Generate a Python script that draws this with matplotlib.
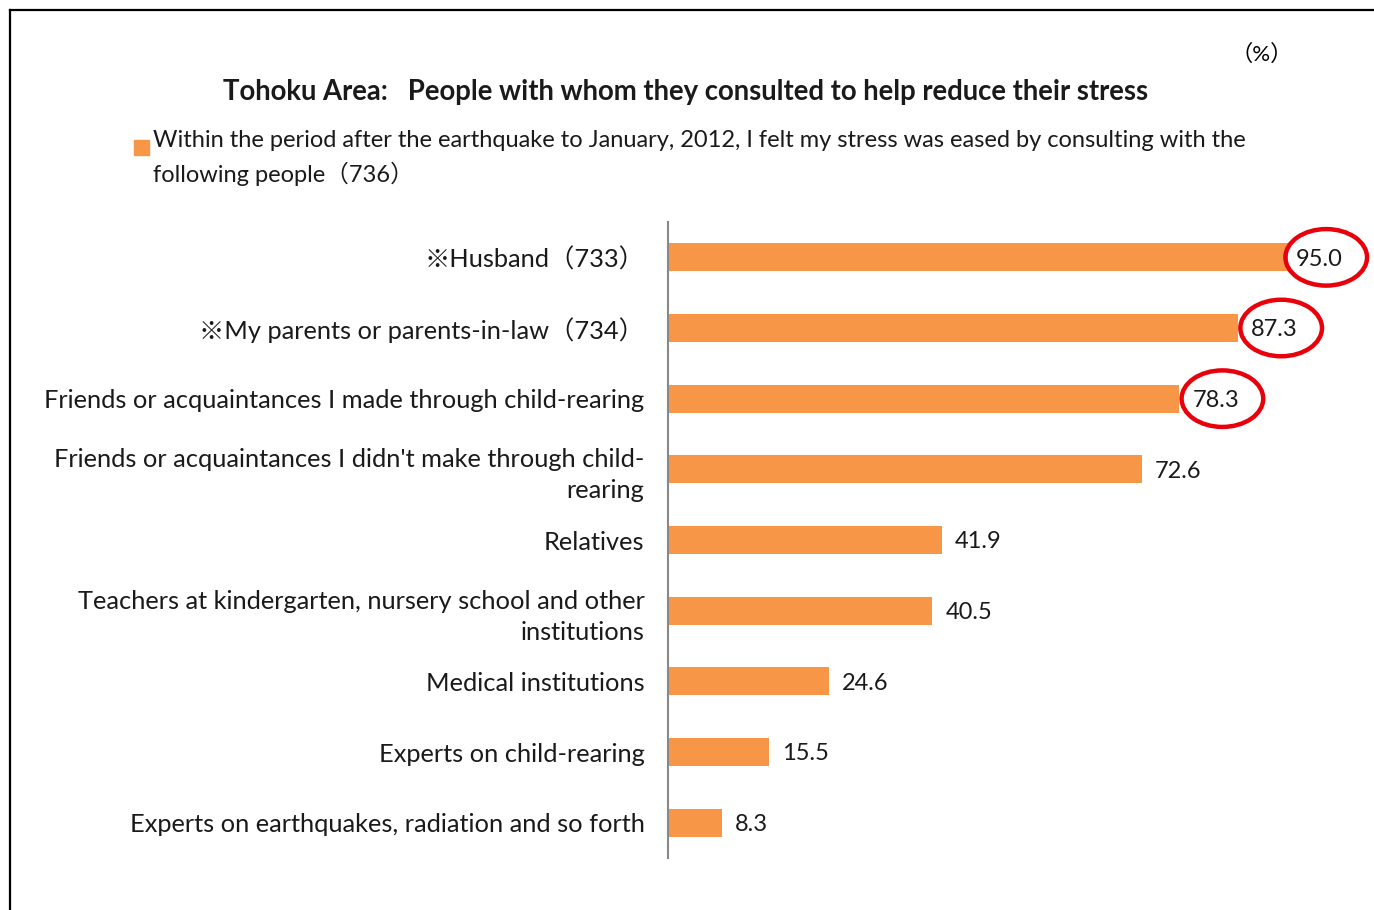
import matplotlib
matplotlib.use("Agg")
import matplotlib.pyplot as plt
from matplotlib.patches import Ellipse, Rectangle
from matplotlib.lines import Line2D

plt.rcParams['font.family'] = ['Lato', 'Noto Sans CJK JP', 'DejaVu Sans']

categories = [
    "※Husband（733）",
    "※My parents or parents-in-law（734）",
    "Friends or acquaintances I made through child-rearing",
    "Friends or acquaintances I didn't make through child-\nrearing",
    "Relatives",
    "Teachers at kindergarten, nursery school and other\ninstitutions",
    "Medical institutions",
    "Experts on child-rearing",
    "Experts on earthquakes, radiation and so forth",
]
values = [95.0, 87.3, 78.3, 72.6, 41.9, 40.5, 24.6, 15.5, 8.3]
circled = [0, 1, 2]

title = "Tohoku Area:   People with whom they consulted to help reduce their stress"
legend_text = ("Within the period after the earthquake to January, 2012, I felt my stress was eased by consulting with the\n"
               "following people（736）")

bar_color = "#F79646"
text_color = "#1a1a1a"

W, H = 1374, 910
fig = plt.figure(figsize=(W / 100, H / 100), dpi=100)

def fx(px):
    return px / W

def fy(py):
    return 1 - py / H

# frame lines along top and left
fig.add_artist(Line2D([fx(10), fx(10)], [fy(10), 0], color="black", lw=1.6))
fig.add_artist(Line2D([fx(10), 1], [fy(10), fy(10)], color="black", lw=1.6))

fig.text(fx(1262), fy(54), "（%）", ha="center", va="center", fontsize=16, color="black")
fig.text(fx(686), fy(92), title, ha="center", va="center", fontsize=19.8,
         fontweight="bold", color=text_color)

# legend marker + text
fig.add_artist(Rectangle((fx(134), fy(155)), fx(15), 15 / H, color=bar_color,
                         transform=fig.transFigure))
fig.text(fx(153), fy(158), legend_text, ha="left", va="center", fontsize=17,
         color=text_color, linespacing=1.5)

ax = fig.add_axes([fx(668), fy(858), fx(1321) - fx(668), fy(222) - fy(858)])
ypos = list(range(len(values)))
ax.barh(ypos, values, height=0.4, color=bar_color)
ax.set_xlim(0, 100)
ax.set_ylim(len(values) - 0.5, -0.5)
ax.set_yticks(ypos)
ax.set_yticklabels(categories, fontsize=18.3, color=text_color, linespacing=1.42)
ax.tick_params(axis="y", length=0, pad=17)
ax.set_xticks([])
for s in ["top", "right", "bottom"]:
    ax.spines[s].set_visible(False)
ax.spines["left"].set_color("#888888")
ax.spines["left"].set_linewidth(1.5)

for i, v in enumerate(values):
    off = 1.2 if i == 0 else 2.0
    ax.text(v + off, i, f"{v:.1f}", ha="left", va="center_baseline", fontsize=17,
            color=text_color)
    if i in circled:
        ax.add_patch(Ellipse((v + off + 4.6, i), 12.5, 0.8, fill=False,
                             edgecolor="#e8000b", lw=3.2, clip_on=False))

fig.savefig("out.png", dpi=100)
